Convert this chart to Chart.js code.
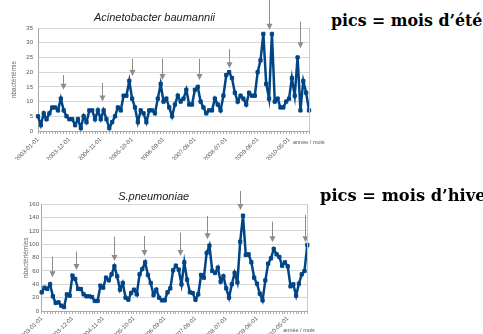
<!DOCTYPE html>
<html>
<head>
<meta charset="utf-8">
<script src="https://cdn.jsdelivr.net/npm/chart.js@4.4.1/dist/chart.umd.min.js"></script>
<style>
  html, body { margin: 0; padding: 0; background: #fff; width: 483px; height: 334px; overflow: hidden; }
  canvas { position: absolute; left: 0; }
  .note { position: absolute; font-family: "DejaVu Serif", serif; font-weight: bold; font-size: 15.8px; white-space: nowrap; color: #000; }
</style>
</head>
<body>
<canvas id="acinetoChart" width="330" height="160" style="top:0"></canvas>
<canvas id="pneumoChart" width="339" height="154" style="top:180px"></canvas>
<div class="note" style="left:331px;top:11px">pics = mois d’été</div>
<div class="note" style="left:320px;top:186px;font-size:16.3px">pics = mois d’hiver</div>

<script>
// --- DATA ---
// monthly categories 2003-01 .. 2010-12
const months = [];
for (let yr = 2003; yr <= 2010; yr++) {
    for (let m = 1; m <= 12; m++) {
        months.push(yr + '-' + String(m).padStart(2, '0') + '-01');
    }
}

const acinetoValues = [
    5, 2, 6, 4, 6, 8, 8, 7, 11, 7,
    5, 4, 4, 2, 4, 1, 5, 3, 7, 7,
    4, 7, 4, 7, 4, 1, 3, 5, 8, 7,
    12, 12, 17, 11, 8, 3, 7, 6, 3, 7,
    7, 6, 11, 16, 10, 11, 8, 5, 9, 12,
    10, 11, 14, 9, 9, 14, 15, 10, 8, 6,
    7, 7, 11, 9, 7, 12, 19, 20, 18, 13,
    10, 12, 11, 9, 13, 12, 12, 20, 24, 33,
    16, 11, 33, 10, 11, 8, 8, 10, 11, 18,
    12, 25, 7, 17, 13, 7
];

const pneumoValues = [
    28, 35, 33, 40, 22, 12, 13, 8, 6, 25,
    23, 53, 48, 33, 33, 25, 22, 22, 21, 15,
    15, 38, 35, 50, 46, 55, 67, 52, 32, 42,
    20, 17, 27, 32, 25, 55, 63, 73, 54, 42,
    24, 32, 20, 16, 16, 28, 34, 61, 68, 62,
    40, 73, 47, 28, 27, 17, 25, 54, 50, 87,
    98, 60, 57, 65, 44, 52, 34, 20, 40, 57,
    43, 104, 143, 84, 85, 73, 50, 41, 26, 16,
    46, 71, 79, 93, 85, 81, 68, 73, 67, 37,
    40, 23, 41, 55, 60, 99
];

// peak arrows: month index, start value, tip value
const acinetoArrowAt   = [8.9, 22.3, 32.8, 43.6, 56.4, 67, 81, 91.8];
const acinetoArrowFrom = [19, 16.3, 24.5, 24.6, 24.5, 27.8, 44.6, 37.2];
const acinetoArrowTo   = [14, 10, 18.7, 17.3, 17.3, 21.3, 34.4, 28.1];

const pneumoArrowAt   = [3.6, 12.3, 25.7, 36.6, 49.5, 59, 71, 82.4, 94];
const pneumoArrowFrom = [81.5, 89, 111.5, 112.5, 117.5, 142.5, 180, 134, 144];
const pneumoArrowTo   = [50.5, 61.5, 75, 82.5, 82.5, 107.5, 151.5, 103, 103];

const LINE_COLOR = '#004586';
const LABEL_EVERY = 11;

// --- PLUGINS ---
const peakArrows = {
    id: 'peakArrows',
    afterDraw(chart, args, opts) {
        const { ctx, scales: { x, y } } = chart;
        ctx.save();
        ctx.strokeStyle = opts.color;
        ctx.fillStyle = opts.color;
        ctx.lineWidth = 1;
        opts.at.forEach((idx, i) => {
            const px = Math.round(x.getPixelForValue(idx)) + 0.5;
            const y0 = y.getPixelForValue(opts.from[i]);
            const y1 = y.getPixelForValue(opts.to[i]);
            ctx.beginPath();
            ctx.moveTo(px, y0);
            ctx.lineTo(px, y1 - 5);
            ctx.stroke();
            ctx.beginPath();
            ctx.moveTo(px - 3, y1 - 6);
            ctx.lineTo(px + 3, y1 - 6);
            ctx.lineTo(px, y1);
            ctx.closePath();
            ctx.fill();
        });
        ctx.restore();
    }
};

// right frame line + "année / mois" caption
const plotFrame = {
    id: 'plotFrame',
    afterDraw(chart, args, opts) {
        const { ctx, chartArea: a } = chart;
        ctx.save();
        ctx.strokeStyle = '#c8c8c8';
        ctx.lineWidth = 1;
        ctx.beginPath();
        ctx.moveTo(Math.round(a.right) + 0.5, a.top);
        ctx.lineTo(Math.round(a.right) + 0.5, a.bottom);
        ctx.stroke();
        ctx.fillStyle = '#555';
        ctx.font = '5.5px "Liberation Sans", Arial, sans-serif';
        ctx.textBaseline = 'middle';
        ctx.fillText(opts.caption, a.right + opts.dx, a.bottom + opts.dy);
        ctx.restore();
    }
};

// --- CHART BUILDER ---
function buildChart(id, cfg) {
    const ctx = document.getElementById(id).getContext('2d');
    return new Chart(ctx, {
        type: 'line',
        data: {
            labels: months,
            datasets: [{
                data: cfg.values,
                borderColor: LINE_COLOR,
                backgroundColor: LINE_COLOR,
                borderWidth: 2.5,
                pointStyle: 'rect',
                pointRadius: 2.3,
                pointBorderWidth: 1,
                tension: 0
            }]
        },
        plugins: [peakArrows, plotFrame],
        options: {
            responsive: false,
            animation: false,
            layout: { padding: { left: 0, right: cfg.padRight, top: 0, bottom: 0 } },
            plugins: {
                legend: { display: false },
                tooltip: { enabled: false },
                title: {
                    display: true,
                    text: cfg.title,
                    color: '#222',
                    font: { family: '"Liberation Sans", Arial, sans-serif', size: 11, style: 'italic', weight: 'normal' },
                    padding: cfg.titlePad
                },
                peakArrows: { at: cfg.arrowAt, from: cfg.arrowFrom, to: cfg.arrowTo, color: '#8c8c8c' },
                plotFrame: { caption: 'année / mois', dx: cfg.capDx, dy: cfg.capDy }
            },
            scales: {
                x: {
                    afterFit(scale) { scale.height = cfg.xHeight; },
                    grid: { drawOnChartArea: false, drawTicks: true, tickLength: 3, color: '#b0b0b0' },
                    border: { color: '#a8a8a8' },
                    ticks: {
                        autoSkip: false,
                        maxRotation: 45,
                        minRotation: 45,
                        padding: cfg.xTickPad,
                        color: '#555',
                        font: { family: '"Liberation Sans", Arial, sans-serif', size: 6 },
                        callback(value, index) {
                            return index % LABEL_EVERY === 0 ? months[index] : '';
                        }
                    }
                },
                y: {
                    min: 0,
                    max: cfg.yMax,
                    afterFit(scale) { scale.width = cfg.yWidth; },
                    grid: { color: '#d6d6d6', drawTicks: false },
                    border: { color: '#a8a8a8' },
                    ticks: {
                        stepSize: cfg.yStep,
                        padding: cfg.tickPad,
                        color: '#555',
                        font: { family: '"Liberation Sans", Arial, sans-serif', size: 6 }
                    },
                    title: {
                        display: true,
                        text: cfg.yTitle,
                        color: '#666',
                        font: { family: '"Liberation Sans", Arial, sans-serif', size: 6.5 },
                        padding: { top: cfg.yTitlePad, bottom: 0 }
                    }
                }
            }
        }
    });
}

buildChart('acinetoChart', {
    title: 'Acinetobacter baumannii',
    values: acinetoValues,
    yMax: 35, yStep: 5,
    yWidth: 38, xHeight: 29, padRight: 21,
    titlePad: { top: 10.9, bottom: 3.9 },
    tickPad: 5, yTitlePad: 10, xTickPad: 2,
    yTitle: 'nbactériémie',
    arrowAt: acinetoArrowAt, arrowFrom: acinetoArrowFrom, arrowTo: acinetoArrowTo,
    capDx: -16, capDy: 11
});

buildChart('pneumoChart', {
    title: 'S.pneumoniae',
    values: pneumoValues,
    yMax: 160, yStep: 20,
    yWidth: 41.7, xHeight: 23, padRight: 31.7,
    titlePad: { top: 10.4, bottom: 0.7 },
    tickPad: 2.7, yTitlePad: 22, xTickPad: 1,
    yTitle: 'nbactériémies',
    arrowAt: pneumoArrowAt, arrowFrom: pneumoArrowFrom, arrowTo: pneumoArrowTo,
    capDx: -24, capDy: 19
});
</script>
</body>
</html>
